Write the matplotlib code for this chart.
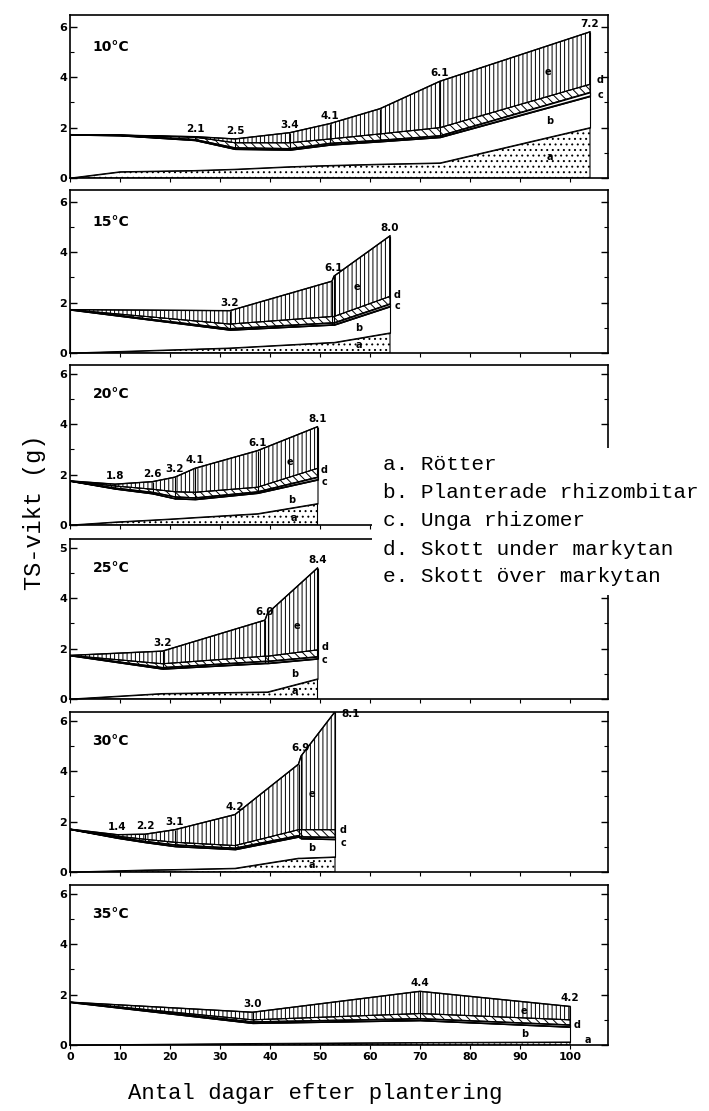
import matplotlib
matplotlib.use('Agg')
import matplotlib.pyplot as plt
import numpy as np
from matplotlib.patches import Rectangle
from matplotlib.ticker import MultipleLocator

plt.rcParams['hatch.linewidth'] = 0.7
plt.rcParams['font.family'] = ['DejaVu Sans']

# ---------------- data (g dry weight per component) ----------------
panel_names = ['10°C', '15°C', '20°C', '25°C', '30°C', '35°C']

days_10    = [0, 10, 25, 33, 44, 52, 62, 74, 104]
roots_10   = [0, 0.25, 0.30, 0.35, 0.45, 0.50, 0.55, 0.60, 2.00]
planted_10 = [1.72, 1.44, 1.20, 0.80, 0.67, 0.82, 0.90, 1.02, 1.25]
young_10   = [0, 0.01, 0.03, 0.05, 0.05, 0.06, 0.05, 0.06, 0.15]
below_10   = [0, 0.00, 0.09, 0.20, 0.23, 0.17, 0.25, 0.32, 0.32]
above_10   = [0, 0.00, 0.02, 0.15, 0.40, 0.61, 1.00, 1.84, 2.08]
labels_10  = ['2.1', '2.5', '3.4', '4.1', '6.1', '7.2']
ldays_10   = [25, 33, 44, 52, 74, 104]

days_15    = [0, 32, 52.4, 52.8, 64]
roots_15   = [0, 0.20, 0.42, 0.42, 0.80]
planted_15 = [1.72, 0.72, 0.70, 0.70, 1.05]
young_15   = [0, 0.05, 0.08, 0.08, 0.10]
below_15   = [0, 0.18, 0.25, 0.25, 0.30]
above_15   = [0, 0.53, 1.40, 1.60, 2.40]
labels_15  = ['3.2', '6.1', '8.0']
ldays_15   = [32, 52.8, 64]

days_20    = [0, 9, 16.5, 21, 25, 37.5, 49.5]
roots_20   = [0, 0.12, 0.20, 0.25, 0.30, 0.45, 0.85]
planted_20 = [1.75, 1.32, 1.05, 0.80, 0.72, 0.82, 0.95]
young_20   = [0, 0.03, 0.05, 0.07, 0.06, 0.05, 0.10]
below_20   = [0, 0.08, 0.12, 0.20, 0.22, 0.18, 0.35]
above_20   = [0, 0.07, 0.30, 0.58, 0.95, 1.45, 1.65]
labels_20  = ['1.8', '2.6', '3.2', '4.1', '6.1', '8.1']
ldays_20   = [9, 16.5, 21, 25, 37.5, 49.5]

days_25    = [0, 18.5, 39, 39.5, 49.5]
roots_25   = [0, 0.22, 0.28, 0.28, 0.80]
planted_25 = [1.73, 0.98, 1.14, 1.14, 0.80]
young_25   = [0, 0.05, 0.08, 0.08, 0.08]
below_25   = [0, 0.15, 0.20, 0.20, 0.27]
above_25   = [0, 0.50, 1.43, 1.70, 3.25]
labels_25  = ['3.2', '6.0', '8.4']
ldays_25   = [18.5, 39, 49.5]

days_30    = [0, 9.5, 15, 21, 33, 45.7, 46.2, 53]
roots_30   = [0, 0.05, 0.08, 0.10, 0.15, 0.55, 0.55, 0.60]
planted_30 = [1.70, 1.30, 1.10, 0.92, 0.75, 0.85, 0.78, 0.70]
young_30   = [0, 0.03, 0.04, 0.06, 0.05, 0.05, 0.07, 0.08]
below_30   = [0, 0.04, 0.08, 0.10, 0.10, 0.23, 0.28, 0.30]
above_30   = [0, 0.06, 0.20, 0.50, 1.23, 2.60, 2.92, 4.68]
labels_30  = ['1.4', '2.2', '3.1', '4.2', '6.9', '8.1']
ldays_30   = [9.5, 15, 21, 33, 46.2, 53]

days_35    = [0, 36.5, 70, 100]
roots_35   = [0, 0.06, 0.10, 0.12]
planted_35 = [1.70, 0.81, 0.88, 0.60]
young_35   = [0, 0.05, 0.07, 0.08]
below_35   = [0, 0.08, 0.20, 0.20]
above_35   = [0, 0.30, 0.88, 0.53]
labels_35  = ['3.0', '4.4', '4.2']
ldays_35   = [36.5, 70, 100]

legend_items = ['a. Rötter', 'b. Planterade rhizombitar', 'c. Unga rhizomer',
                'd. Skott under markytan', 'e. Skott över markytan']
x_ticks = [0, 10, 20, 30, 40, 50, 60, 70, 80, 90, 100]
y_ticks = [0, 2, 4, 6]
y_ticklabels = [['0', '2', '4', '6'], ['0', '2', '4', '6'], ['0', '2', '4', '6'],
                ['0', '2', '4', '5'], ['0', '2', '4', '6'], ['0', '2', '4', '6']]

panels = [
    (days_10, roots_10, planted_10, young_10, below_10, above_10, labels_10, ldays_10),
    (days_15, roots_15, planted_15, young_15, below_15, above_15, labels_15, ldays_15),
    (days_20, roots_20, planted_20, young_20, below_20, above_20, labels_20, ldays_20),
    (days_25, roots_25, planted_25, young_25, below_25, above_25, labels_25, ldays_25),
    (days_30, roots_30, planted_30, young_30, below_30, above_30, labels_30, ldays_30),
    (days_35, roots_35, planted_35, young_35, below_35, above_35, labels_35, ldays_35),
]

# letter annotations inside the layers (layout)
letters = [
    [('e', 95.6, 4.2), ('d', 106, 3.9), ('c', 106, 3.3), ('b', 96, 2.25), ('a', 96, 0.85)],
    [('e', 57.3, 2.6), ('d', 65.5, 2.3), ('c', 65.5, 1.85), ('b', 57.7, 1.0), ('a', 57.7, 0.32)],
    [('e', 44, 2.5), ('d', 50.8, 2.2), ('c', 50.8, 1.7), ('b', 44.3, 1.0), ('a', 44.7, 0.28)],
    [('e', 45.3, 2.9), ('d', 51, 2.05), ('c', 51, 1.55), ('b', 45, 1.0), ('a', 45, 0.32)],
    [('e', 48.3, 3.1), ('d', 54.7, 1.65), ('c', 54.7, 1.15), ('b', 48.3, 0.95), ('a', 48.3, 0.28)],
    [('e', 90.7, 1.33), ('d', 101.5, 0.8), ('b', 91, 0.45), ('a', 103.6, 0.2)],
]

# ---------------- figure ----------------
W, H = 709, 1111
fig = plt.figure(figsize=(W / 100, H / 100), dpi=100)
panel_px = [(15, 178), (190, 353), (365, 525), (539, 699), (712, 872), (885, 1045)]
L, R = 70, 608
hatches = ['...', None, None, '\\\\\\\\', '||||']

for i, ((t, b), data) in enumerate(zip(panel_px, panels)):
    days, *layers, labs, ldays = data
    ax = fig.add_axes([L / W, 1 - b / H, (R - L) / W, (b - t) / H])
    x = np.array(days, dtype=float)
    cum = np.cumsum(np.array(layers, dtype=float), axis=0)
    lower = np.zeros_like(x)
    for k in range(5):
        upper = cum[k]
        ax.fill_between(x, lower, upper, facecolor='white', edgecolor='black',
                        hatch=hatches[k], linewidth=0.8, zorder=2 + k * 0.1)
        lower = upper
    # boundary lines
    for k in range(5):
        ax.plot(x, cum[k], color='black', lw=1.0 if k in (1, 4) else 0.7, zorder=3)
    # vertical lines at sampling days
    ax.vlines(x[1:], cum[1][1:], cum[4][1:], color='black', lw=0.8, zorder=3)
    # value labels
    total = cum[4]
    for lab, ld in zip(labs, ldays):
        j = int(np.argmin(np.abs(x - ld)))
        if i == 4 and lab == '8.1':
            ax.text(x[j] + 1.2, total[j] - 0.1, lab, fontsize=7.5, fontweight='bold',
                    ha='left', va='center', zorder=5)
        else:
            ax.text(x[j], total[j] + 0.12, lab, fontsize=7.5, fontweight='bold',
                    ha='center', va='bottom', zorder=5)
    for (ch, lx, ly) in letters[i]:
        ax.text(lx, ly, ch, fontsize=7, fontweight='bold', ha='center', va='center',
                zorder=5)
    ax.text(4.5, 5.2, panel_names[i], fontsize=10, fontweight='bold', ha='left',
            va='center')

    ax.set_xlim(0, 107.6)
    ax.set_ylim(0, (b - t) / 25.2)
    ax.set_yticks(y_ticks)
    ax.set_yticklabels(y_ticklabels[i], fontsize=8, fontweight='bold')
    ax.yaxis.set_minor_locator(MultipleLocator(1))
    ax.tick_params(axis='y', which='both', direction='in', left=True, right=True)
    ax.tick_params(axis='y', which='major', length=5, width=1.0, pad=2)
    ax.tick_params(axis='y', which='minor', length=3, width=0.8)
    ax.set_xticks(x_ticks)
    ax.tick_params(axis='x', direction='out', length=3, width=0.8, pad=2)
    if i < 5:
        ax.set_xticklabels([])
    else:
        ax.set_xticklabels([str(v) for v in x_ticks], fontsize=8, fontweight='bold')
    for s in ax.spines.values():
        s.set_linewidth(1.2)

# legend block (covers part of panels 3-4)
fig.patches.append(Rectangle((372 / W, 1 - 595 / H), (W - 372) / W, (595 - 448) / H,
                             transform=fig.transFigure, facecolor='white',
                             edgecolor='none', zorder=10))
leg_y = [465, 493, 521, 549, 577]
for txt, yy in zip(legend_items, leg_y):
    fig.text(383 / W, 1 - yy / H, txt, fontsize=15.2, family='Liberation Mono',
             ha='left', va='center', zorder=11)

fig.text(35 / W, 1 - 512 / H, 'TS-vikt (g)', rotation=90, fontsize=17,
         family='Liberation Mono', ha='center', va='center')
fig.text(315 / W, 1 - 1093 / H, 'Antal dagar efter plantering', fontsize=16,
         family='Liberation Mono', ha='center', va='center')

fig.savefig('out.png', dpi=100)
